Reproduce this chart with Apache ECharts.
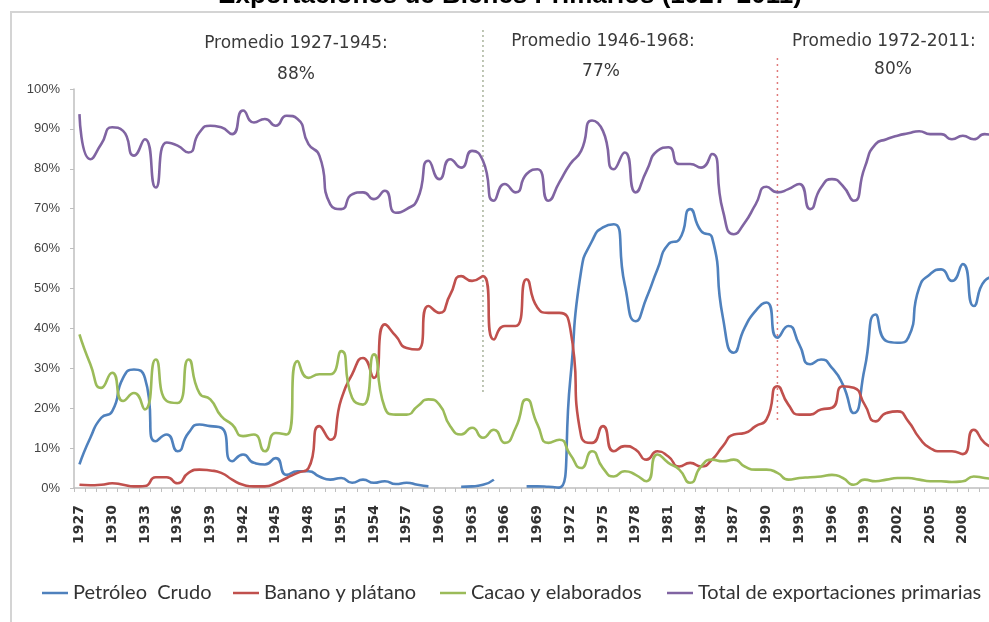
<!DOCTYPE html>
<html>
<head>
<meta charset="utf-8">
<script src="https://cdn.jsdelivr.net/npm/echarts@6/dist/echarts.min.js"></script>
<style>
html,body{margin:0;padding:0;background:#fff;}
#c{width:989px;height:622px;}
</style>
</head>
<body>
<div id="c"></div>
<script>
const years = ['1927','1928','1929','1930','1931','1932','1933','1934','1935','1936','1937','1938','1939','1940','1941','1942','1943','1944','1945','1946','1947','1948','1949','1950','1951','1952','1953','1954','1955','1956','1957','1958','1959','1960','1961','1962','1963','1964','1965','1966','1967','1968','1969','1970','1971','1972','1973','1974','1975','1976','1977','1978','1979','1980','1981','1982','1983','1984','1985','1986','1987','1988','1989','1990','1991','1992','1993','1994','1995','1996','1997','1998','1999','2000','2001','2002','2003','2004','2005','2006','2007','2008','2009','2010','2011'];

const petroleo = [5.9,12.6,17.6,19.2,27.6,29.7,27.6,11.7,13.4,9.2,13.8,15.9,15.5,15.1,6.7,8.4,6.3,5.9,7.5,3.3,4.2,4.2,2.9,2.1,2.5,1.3,2.1,1.3,1.7,1.0,1.3,0.8,0.4,null,null,0.3,0.4,0.8,2.1,null,null,0.4,0.4,0.3,0.1,27,54.4,61.9,65.3,66.1,51,41.8,47.7,54.8,61.1,62.3,69.9,64.4,62.8,42.7,33.9,40.2,44.4,46.5,37.7,40.6,36,31,32.2,30.1,25.9,18.8,30,43.5,36.8,36.4,37.7,50.2,53.6,54.8,51.9,56.1,45.6,51.9,53];

const banano = [0.8,0.7,0.8,1.2,0.8,0.4,0.5,2.7,2.7,1.2,3.8,4.6,4.4,3.8,2.1,0.8,0.4,0.4,1.2,2.5,3.8,5,15.5,12.1,22.2,28.5,32.6,27.6,41,38.1,35.1,34.7,45.6,43.9,48.5,53.1,51.9,53.1,37.2,40.6,40.6,52.3,45.2,43.9,43.9,40,13,11.3,15.5,9.2,10.5,9.6,7.1,9.2,7.9,5.4,6.3,5.4,7.1,10.5,13.4,13.8,15.5,17.2,25.5,20.9,18.4,18.4,19.7,20.1,25.5,25.1,20.9,16.7,18.8,19.2,16.7,12.6,10,9.2,9.2,8.5,14.6,11.3,10];

const cacao = [38.5,31,25.1,28.9,21.8,23.8,19.7,32.2,21.8,21.3,32.2,23.8,22.2,18,15.9,13,13.4,9.2,13.8,13.4,31.8,27.6,28.5,28.5,34.3,22.6,20.9,33.5,20.1,18.4,18.4,20.5,22.2,20.9,15.5,13.4,15.1,12.6,14.6,11.3,15.1,22.2,15.9,11.3,12.1,8.4,5,9.2,5,2.9,4.2,3.3,1.7,8.4,6.3,4.6,1.3,5.4,7.1,6.7,7.1,5.4,4.6,4.6,3.8,2.1,2.5,2.7,2.9,3.3,2.5,0.8,2.1,1.7,2.1,2.5,2.5,2.1,1.7,1.7,1.5,1.7,2.9,2.5,2.3];

const total = [93.7,82.4,86.2,90.4,89.5,83.3,87.4,75.3,86.6,85.8,84.1,89.1,90.8,90.4,88.7,94.6,91.6,92.5,90.8,93.3,92.5,86.2,83.3,71.1,69.9,73.6,74.1,72.4,74.5,69,69.9,72.4,82,77.4,82.4,80.3,84.5,82,72,76.2,74.1,78.7,79.9,72,76.6,81.2,84.5,92.1,89.5,79.9,84.1,74.1,79.5,84.5,85.4,81.2,81.2,80.3,83.7,69.5,63.6,66.5,71.1,75.5,74.1,74.9,76.2,69.9,75.3,77.4,75.7,72,80.3,86.2,87.4,88.3,88.9,89.4,88.7,88.7,87.4,88.3,87.4,88.7,88];

const seriesNames = ['Petróleo  Crudo','Banano y plátano','Cacao y elaborados','Total de exportaciones primarias'];
const seriesColors = ['#4F81BD','#C0504D','#9BBB59','#8064A2'];
const seriesData = [petroleo, banano, cacao, total];

const promedioLabels = ['Promedio 1927-1945:','Promedio 1946-1968:','Promedio 1972-2011:'];
const promedioValues = ['88%','77%','80%'];
const dividerYears = ['1964','1991'];

const chart = echarts.init(document.getElementById('c'), null, {renderer:'canvas'});

const legendLefts = [37, 228, 435, 662];

const option = {
  backgroundColor: '#ffffff',
  animation: false,
  title: {
    text: 'Exportaciones de Bienes Primarios (1927-2011)',
    left: 505, textAlign: 'center', top: -22,
    textStyle: {fontFamily: 'Liberation Sans', fontWeight: 'bold', fontSize: 26, color: '#000'}
  },
  legend: seriesNames.map((n, i) => ({
    data: [n], left: legendLefts[i], top: 578,
    icon: 'rect', itemWidth: 26, itemHeight: 2.5, itemGap: 0,
    textStyle: {fontFamily: 'Lato', fontSize: 20, color: '#333'}
  })),
  grid: {left: 74, top: 89, width: 927, height: 399, containLabel: false, outerBoundsMode: 'none'},
  xAxis: {
    type: 'category', data: years, boundaryGap: true,
    axisLine: {lineStyle: {color: '#bfbfbf', width: 1.5}},
    axisTick: {show: true, interval: 0, length: 4, lineStyle: {color: '#bfbfbf'}},
    axisLabel: {interval: 2, rotate: 90, margin: 17, fontFamily: 'DejaVu Sans', fontWeight: 'bold', fontSize: 14, color: '#333'},
    splitLine: {show: false}
  },
  yAxis: {
    type: 'value', min: 0, max: 100, interval: 10,
    axisLine: {show: true, lineStyle: {color: '#bfbfbf', width: 1.5}},
    axisTick: {show: true, length: 4, lineStyle: {color: '#bfbfbf'}},
    splitLine: {show: false},
    axisLabel: {formatter: '{value}%', margin: 14, fontFamily: 'Liberation Sans', fontSize: 13, color: '#444'}
  },
  series: seriesNames.map((n, i) => ({
    name: n, type: 'line', data: seriesData[i], smooth: 0.6,
    symbol: 'none', showSymbol: false, connectNulls: false,
    color: seriesColors[i],
    lineStyle: {width: 2.6, color: seriesColors[i]},
    z: i === 3 ? 3 : 2
  }))
};
chart.setOption(option);

// decorations: border, dividers and averages
const x1 = chart.convertToPixel({xAxisIndex: 0}, dividerYears[0]);
const x2 = chart.convertToPixel({xAxisIndex: 0}, dividerYears[1]);
const annFont = {fontFamily: 'DejaVu Sans', fontSize: 17, fill: '#3a3a3a'};
chart.setOption({
  graphic: [
    {type: 'rect', z: -1, shape: {x: 11, y: 12, width: 1000, height: 660}, style: {fill: 'none', stroke: '#d4d4d4', lineWidth: 2}},
    {type: 'line', shape: {x1: x1, y1: 30, x2: x1, y2: 392}, style: {stroke: '#a9b39c', lineWidth: 1.5, lineDash: [2, 3]}},
    {type: 'line', shape: {x1: x2, y1: 58, x2: x2, y2: 423}, style: {stroke: '#e07a7a', lineWidth: 1.5, lineDash: [2, 4]}},
    {type: 'text', x: 296, y: 44, style: Object.assign({text: promedioLabels[0], textAlign: 'center', textVerticalAlign: 'middle'}, annFont)},
    {type: 'text', x: 296, y: 75, style: Object.assign({text: promedioValues[0], textAlign: 'center', textVerticalAlign: 'middle'}, annFont)},
    {type: 'text', x: 603, y: 42, style: Object.assign({text: promedioLabels[1], textAlign: 'center', textVerticalAlign: 'middle'}, annFont)},
    {type: 'text', x: 601, y: 72, style: Object.assign({text: promedioValues[1], textAlign: 'center', textVerticalAlign: 'middle'}, annFont)},
    {type: 'text', x: 792, y: 42, style: Object.assign({text: promedioLabels[2], textAlign: 'left', textVerticalAlign: 'middle'}, annFont)},
    {type: 'text', x: 893, y: 70, style: Object.assign({text: promedioValues[2], textAlign: 'center', textVerticalAlign: 'middle'}, annFont)}
  ]
});
</script>
</body>
</html>
